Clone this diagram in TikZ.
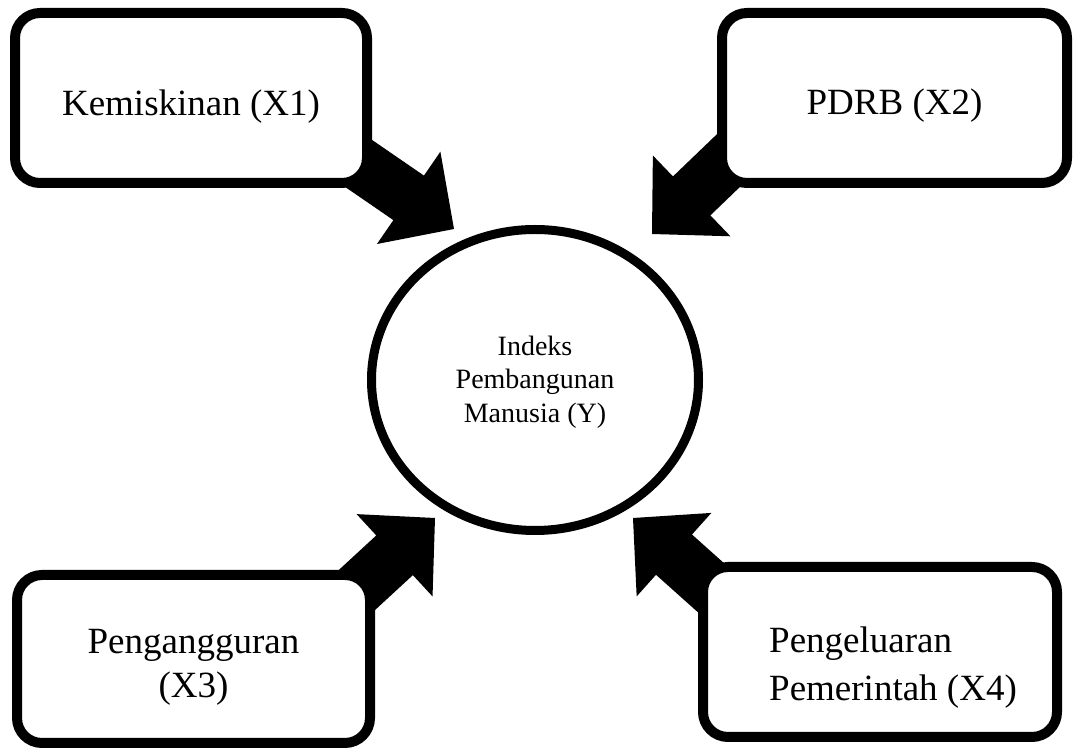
\documentclass[tikz,border=0pt]{standalone}
\usepackage{fontspec}
\setmainfont{Liberation Serif}
\usetikzlibrary{calc,shapes.geometric}
% block arrow from tail #1 to tip #2
\newcommand\bkarrow[2]{%
  \coordinate (bkB) at ($(#2)!27.5pt!(#1)$);
  \fill[arrowbody] ($(#1)!13.5pt!90:(#2)$) -- ($(bkB)!13.5pt!90:(#2)$) -- ($(bkB)!28pt!90:(#2)$) -- (#2)
    -- ($(bkB)!28pt!-90:(#2)$) -- ($(bkB)!13.5pt!-90:(#2)$) -- ($(#1)!13.5pt!-90:(#2)$) -- cycle;}
\begin{document}
\begin{tikzpicture}[x=0.5pt,y=-0.5pt,
  box/.style={rectangle, draw=black, fill=white, line width=5pt, rounded corners=12.5pt, inner sep=0pt},
  boxtext/.style={font=\fontsize{18.5pt}{22pt}\selectfont, align=center, inner sep=0pt},
  hub/.style={ellipse, draw=black, fill=white, line width=4.5pt, minimum width=163.5pt, minimum height=150.5pt, inner sep=0pt},
  hubtext/.style={font=\fontsize{14pt}{16.75pt}\selectfont, align=center, inner sep=0pt},
  arrowbody/.style={fill=black}]
\useasboundingbox (0,0) rectangle (1073,748);
\fill[white] (0,0) rectangle (1073,748);

% arrow end points
\coordinate (t1) at (339,150); \coordinate (p1) at (454,229);
\coordinate (t2) at (753,137); \coordinate (p2) at (652,234);
\coordinate (t3) at (332,613); \coordinate (p3) at (435,518);
\coordinate (t4) at (737,611); \coordinate (p4) at (633,518);

\bkarrow{t1}{p1}
\bkarrow{t2}{p2}
\bkarrow{t3}{p3}
\bkarrow{t4}{p4}

% boxes
\node[box, minimum width=176pt, minimum height=85pt] (b1) at (191,98) {};
\node[boxtext] (l1) at ($(b1)+(0,9)$) {Kemiskinan (X1)};

\node[box, minimum width=172.5pt, minimum height=85pt] (b2) at (894.5,98) {};
\node[boxtext] (l2) at ($(b2)+(0,8)$) {PDRB (X2)};

\node[box, minimum width=176.5pt, minimum height=84pt] (b3) at (193.5,659) {};
\node[boxtext] (l3) at ($(b3)+(0,8)$) {Pengangguran\\(X3)};

\node[box, minimum width=177pt, minimum height=85pt] (b4) at (880,652) {};
\node[boxtext, align=left, font=\fontsize{18.5pt}{24pt}\selectfont] (l4) at (893,667.5) {Pengeluaran\\Pemerintah (X4)};

% centre
\node[hub] (y) at (535,380) {};
\node[hubtext] (ly) at ($(y)+(0,2)$) {Indeks\\Pembangunan\\Manusia (Y)};
\end{tikzpicture}
\end{document}
